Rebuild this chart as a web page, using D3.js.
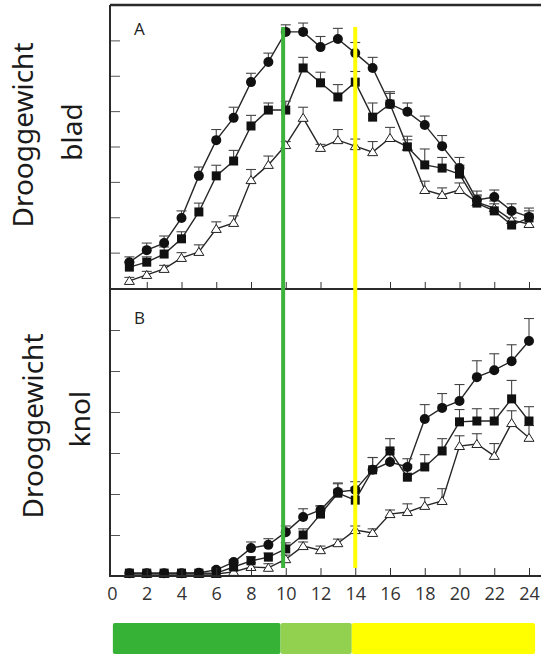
<!DOCTYPE html>
<html>
<head>
<meta charset="utf-8">
<script src="https://cdn.jsdelivr.net/npm/d3@7"></script>
<style>
  html, body { margin: 0; padding: 0; background: #fff; }
  svg { display: block; }
  .ylab { font-family: "Noto Sans", "Open Sans", sans-serif; fill: #1a1a1a; }
  .tick text { font-family: "Open Sans", sans-serif; font-size: 18px; fill: #333; }
</style>
</head>
<body>
<div id="chart"></div>
<script>
// weeks after planting
var days = [1,2,3,4,5,6,7,8,9,10,11,12,13,14,15,16,17,18,19,20,21,22,23,24];
var xTicks = [0,2,4,6,8,10,12,14,16,18,20,22,24];

// A: droog gewicht blad (no units on the axis, read in tick steps)
var bladCircle   = [0.73,1.07,1.27,1.98,3.17,4.18,4.81,5.82,6.39,7.24,7.24,6.81,7.04,6.64,6.22,5.20,4.98,4.61,4.01,3.39,2.49,2.57,2.18,2.01];
var bladSquare   = [0.59,0.73,0.96,1.39,2.15,3.17,3.59,4.58,5.03,5.03,6.22,5.80,5.40,5.82,4.83,5.20,3.99,3.48,3.39,3.22,2.40,2.18,1.78,1.98];
var bladTriangle = [0.20,0.37,0.54,0.85,1.02,1.67,1.84,3.05,3.48,4.04,4.81,3.96,4.18,4.01,3.84,4.24,3.99,2.77,2.63,2.77,2.43,2.26,1.92,1.81];
var bladCircleErr   = [0.15,0.2,0.2,0.2,0.25,0.3,0.3,0.25,0.25,0.2,0.25,0.3,0.3,0.3,0.3,0.3,0.25,0.25,0.3,0.3,0.25,0.2,0.2,0.25];
var bladSquareErr   = [0.15,0.15,0.2,0.2,0.25,0.3,0.3,0.3,0.2,0.25,0.3,0.3,0.35,0.3,0.4,0.35,0.3,0.45,0.3,0.25,0.2,0.2,0.2,0.2];
var bladTriangleErr = [0.1,0.1,0.1,0.15,0.2,0.2,0.2,0.3,0.25,0.1,0.3,0.1,0.3,0.2,0.3,0.3,0.2,0.25,0.2,0.2,0.2,0.2,0.2,0.2];

// B: droog gewicht knol
var knolCircle   = [0.07,0.07,0.07,0.07,0.08,0.15,0.34,0.68,0.76,1.07,1.44,1.61,2.05,2.10,2.59,2.78,2.66,3.83,4.10,4.27,4.85,5.02,5.24,5.73];
var knolSquare   = [0.07,0.07,0.07,0.07,0.07,0.07,0.22,0.37,0.46,0.66,1.00,1.51,2.02,1.85,2.59,3.05,2.41,2.66,3.05,3.76,3.78,3.78,4.32,3.78];
var knolTriangle = [0.05,0.05,0.05,0.05,0.05,0.05,0.10,0.22,0.20,0.41,0.73,0.63,0.80,1.12,1.05,1.51,1.56,1.71,1.83,3.17,3.22,2.93,3.73,3.37];
var knolCircleErr   = [0,0,0,0,0,0.05,0.05,0.15,0.15,0.15,0.2,0.1,0.2,0.2,0.3,0.3,0.2,0.35,0.35,0.4,0.4,0.4,0.4,0.55];
var knolSquareErr   = [0,0,0,0,0,0.05,0.1,0.1,0.1,0.15,0.15,0.2,0.25,0.3,0.3,0.3,0.3,0.3,0.3,0.3,0.3,0.3,0.45,0.35];
var knolTriangleErr = [0,0,0,0,0,0,0.05,0.1,0.1,0.1,0.1,0.1,0.1,0.1,0.1,0.1,0.2,0.2,0.3,0.25,0.25,0.3,0.3,0.3];

// phase markers and the coloured bar underneath (in weeks)
var phaseLines = [9.85, 14];
var phaseColors = ["#3db33d", "#ffff00"];
var barStarts = [0.05, 9.7, 13.8];
var barEnds = [9.7, 13.8, 24.35];
var barColors = ["#36b236", "#92d050", "#ffff00"];

var width = 541,
    height = 654;

var x = d3.scaleLinear().domain([0, 24]).range([112, 529]);
var yA = d3.scaleLinear().domain([0, 8]).range([288, 5]);
var yB = d3.scaleLinear().domain([0, 7]).range([576, 289]);

var svg = d3.select("#chart").append("svg")
    .attr("width", width)
    .attr("height", height);

svg.append("rect").attr("width", width).attr("height", height).attr("fill", "#fff");

// zip a series into points
function toPoints(vals, errs) {
    return days.map(function(d, i) { return {t: d, v: vals[i], e: errs[i]}; });
}

function drawPanel(y, series) {
    var g = svg.append("g");
    var line = d3.line()
        .x(function(d) { return x(d.t); })
        .y(function(d) { return y(d.v); });

    series.forEach(function(s) {
        g.append("path")
            .datum(s.pts)
            .attr("d", line)
            .attr("fill", "none")
            .attr("stroke", "#262626")
            .attr("stroke-width", 1.4);
    });

    // error bars, upward only with a cap
    series.forEach(function(s) {
        var eb = g.selectAll(null)
            .data(s.pts.filter(function(d) { return d.e > 0; }))
            .enter().append("g");
        eb.append("line")
            .attr("x1", function(d) { return x(d.t); })
            .attr("x2", function(d) { return x(d.t); })
            .attr("y1", function(d) { return y(d.v); })
            .attr("y2", function(d) { return y(d.v + d.e); })
            .attr("stroke", "#444").attr("stroke-width", 1.1);
        eb.append("line")
            .attr("x1", function(d) { return x(d.t) - 5; })
            .attr("x2", function(d) { return x(d.t) + 5; })
            .attr("y1", function(d) { return y(d.v + d.e); })
            .attr("y2", function(d) { return y(d.v + d.e); })
            .attr("stroke", "#444").attr("stroke-width", 1.1);
    });

    series.forEach(function(s) {
        var m = g.selectAll(null).data(s.pts).enter();
        if (s.shape == "circle") {
            m.append("circle")
                .attr("cx", function(d) { return x(d.t); })
                .attr("cy", function(d) { return y(d.v); })
                .attr("r", 5)
                .attr("fill", "#111");
        } else if (s.shape == "square") {
            m.append("rect")
                .attr("x", function(d) { return x(d.t) - 4.5; })
                .attr("y", function(d) { return y(d.v) - 4.5; })
                .attr("width", 9).attr("height", 9)
                .attr("fill", "#111");
        } else {
            m.append("path")
                .attr("d", function(d) {
                    var cx = x(d.t), cy = y(d.v);
                    return "M" + (cx - 5) + "," + (cy + 3.5) + "L" + (cx + 5) + "," + (cy + 3.5) + "L" + cx + "," + (cy - 4.5) + "Z";
                })
                .attr("fill", "#fff")
                .attr("stroke", "#222")
                .attr("stroke-width", 1);
        }
    });
}

drawPanel(yA, [
    {shape: "triangle", pts: toPoints(bladTriangle, bladTriangleErr)},
    {shape: "square", pts: toPoints(bladSquare, bladSquareErr)},
    {shape: "circle", pts: toPoints(bladCircle, bladCircleErr)}
]);
drawPanel(yB, [
    {shape: "triangle", pts: toPoints(knolTriangle, knolTriangleErr)},
    {shape: "square", pts: toPoints(knolSquare, knolSquareErr)},
    {shape: "circle", pts: toPoints(knolCircle, knolCircleErr)}
]);

// y ticks point inwards
svg.append("g")
    .attr("transform", "translate(110,0)")
    .call(d3.axisRight(yA).tickValues([1,2,3,4,5,6,7]).tickSize(10).tickFormat(""))
    .call(function(g) { g.select(".domain").remove(); g.selectAll("line").attr("stroke", "#555"); });
svg.append("g")
    .attr("transform", "translate(110,0)")
    .call(d3.axisRight(yB).tickValues([1,2,3,4,5,6]).tickSize(10).tickFormat(""))
    .call(function(g) { g.select(".domain").remove(); g.selectAll("line").attr("stroke", "#555"); });

// x ticks of panel A (no labels)
svg.append("g")
    .attr("transform", "translate(0,289)")
    .call(d3.axisTop(x).tickValues(xTicks.slice(1)).tickSize(7).tickFormat(""))
    .call(function(g) { g.select(".domain").remove(); g.selectAll("line").attr("stroke", "#333"); });

// x axis of panel B with labels
svg.append("g")
    .attr("transform", "translate(0,576)")
    .call(d3.axisBottom(x).tickValues(xTicks).tickSizeInner(-8).tickSizeOuter(0).tickPadding(11))
    .call(function(g) {
        g.select(".domain").remove();
        g.selectAll("line").attr("stroke", "#333");
        g.selectAll(".tick").filter(function(d) { return d == 0; }).select("line").remove();
    });

// frame
var frame = [
    [110, 5, 541, 5, 2.5],
    [110, 5, 110, 577, 2],
    [110, 289, 541, 289, 2],
    [110, 576, 541, 576, 2]
];
svg.selectAll("line.frame")
    .data(frame).enter().append("line")
    .attr("class", "frame")
    .attr("x1", function(d) { return d[0]; })
    .attr("y1", function(d) { return d[1]; })
    .attr("x2", function(d) { return d[2]; })
    .attr("y2", function(d) { return d[3]; })
    .attr("stroke", "#2a2a2a")
    .attr("stroke-width", function(d) { return d[4]; });

// panel letters
svg.append("text").attr("x", 134).attr("y", 35).text("A")
    .attr("font-family", "Open Sans, sans-serif").attr("font-size", 17).attr("fill", "#222");
svg.append("text").attr("x", 134).attr("y", 324).text("B")
    .attr("font-family", "Open Sans, sans-serif").attr("font-size", 17).attr("fill", "#222");

// phase lines on top of the data
svg.selectAll("line.phase")
    .data(phaseLines).enter().append("line")
    .attr("class", "phase")
    .attr("x1", function(d) { return x(d); })
    .attr("x2", function(d) { return x(d); })
    .attr("y1", 27)
    .attr("y2", 568)
    .attr("stroke", function(d, i) { return phaseColors[i]; })
    .attr("stroke-width", 4);

// coloured bar below the axis
svg.selectAll("rect.phasebar")
    .data(barStarts).enter().append("rect")
    .attr("class", "phasebar")
    .attr("x", function(d) { return x(d); })
    .attr("y", 623)
    .attr("width", function(d, i) { return x(barEnds[i]) - x(d); })
    .attr("height", 31)
    .attr("rx", 2)
    .attr("fill", function(d, i) { return barColors[i]; });

// y labels, rotated
function yLabel(cx, cy, txt, size) {
    svg.append("text")
        .attr("class", "ylab")
        .attr("transform", "translate(" + cx + "," + cy + ") rotate(-90)")
        .attr("text-anchor", "middle")
        .attr("font-size", size)
        .text(txt);
}
yLabel(33, 135, "Drooggewicht", 28);
yLabel(82, 132, "blad", 28);
yLabel(43, 426, "Drooggewicht", 28);
yLabel(90, 419, "knol", 28);
</script>
</body>
</html>
